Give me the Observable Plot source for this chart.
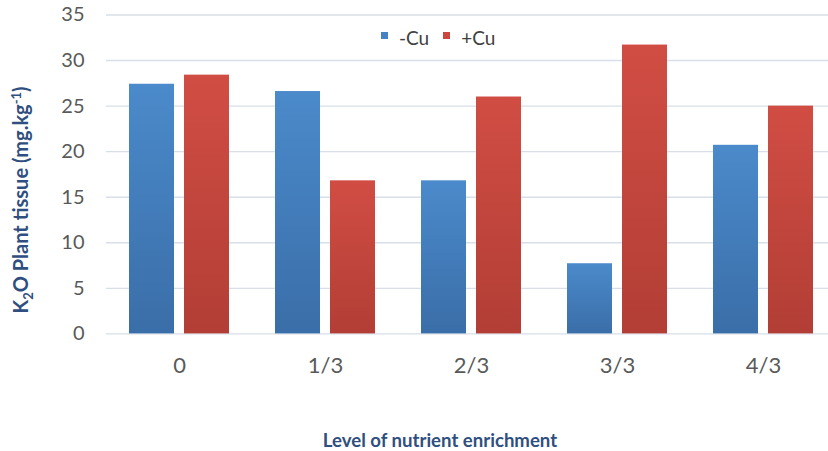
<!DOCTYPE html>
<html>
<head>
<meta charset="utf-8">
<script src="https://cdn.jsdelivr.net/npm/d3@7"></script>
<script src="https://cdn.jsdelivr.net/npm/@observablehq/plot@0.6"></script>
<style>
  html, body { margin: 0; padding: 0; background: #fff; overflow: hidden; }
  #wrap { position: relative; width: 828px; height: 451px; font-family: Lato, "Open Sans", sans-serif; }
  #wrap svg { position: absolute; left: 0; top: 0; overflow: visible; }
  .legend { position: absolute; left: 381px; top: 26px; display: flex; align-items: center; font-size: 19px; color: #404040; }
  .legend .item { display: flex; align-items: center; margin-right: 14px; }
  .legend .sw { width: 7px; height: 7px; margin-right: 11px; margin-top: -4px; }
  .ytitle { position: absolute; left: 22px; top: 200px; transform: translate(-50%, -50%) rotate(-90deg); white-space: nowrap; font-weight: bold; font-size: 20px; color: #2f4f80; }
  .xtitle { position: absolute; left: 440px; top: 440px; transform: translate(-50%, -50%); white-space: nowrap; font-weight: bold; font-size: 18.6px; color: #2f4f80; }
</style>
</head>
<body>
<div id="wrap"></div>
<script>
const categories = ["0", "1/3", "2/3", "3/3", "4/3"];
const series = ["-Cu", "+Cu"];
const minusCu = [27.4, 26.6, 16.8, 7.7, 20.7];
const plusCu = [28.4, 16.8, 26.0, 31.7, 25.0];
const yTicks = [0, 5, 10, 15, 20, 25, 30, 35];
const seriesColors = ["#4682c4", "#c9473e"];

const data = categories.flatMap((c, i) => [
  {level: c, series: series[0], value: minusCu[i]},
  {level: c, series: series[1], value: plusCu[i]}
]);

const chart = Plot.plot({
  width: 828,
  height: 451,
  marginLeft: 104,
  marginRight: -9,
  marginTop: 14.5,
  marginBottom: 117.6,
  style: {fontFamily: "Lato, 'Open Sans', sans-serif", fontSize: "20px", color: "#595959", background: "transparent", overflow: "visible"},
  fx: {domain: categories, paddingInner: 0, paddingOuter: 0, label: null, axis: "bottom", tickSize: 0, tickPadding: 23},
  x: {domain: series, paddingInner: 0.18, paddingOuter: 0.41, axis: null},
  y: {domain: [0, 35], ticks: yTicks, tickSize: 0, tickPadding: 22, label: null},
  color: {domain: series, range: ["url(#gBlue)", "url(#gRed)"]},
  marks: [
    Plot.ruleY(yTicks, {stroke: "#d8dfe9", strokeWidth: 1.4}),
    Plot.barY(data, {fx: "level", x: "series", y: "value", fill: "series"})
  ]
});

const svg = d3.select(chart);
svg.selectAll('g[aria-label^="fx-axis"]').attr("font-size", "22px").selectAll("text").attr("font-size", "22px");
const defs = svg.insert("defs", ":first-child");
const grads = [
  {id: "gBlue", top: "#4b8acb", bottom: "#3a6ea8"},
  {id: "gRed", top: "#d14d44", bottom: "#b23e35"}
];
for (const g of grads) {
  const lg = defs.append("linearGradient").attr("id", g.id).attr("x1", 0).attr("y1", 0).attr("x2", 0).attr("y2", 1);
  lg.append("stop").attr("offset", "0%").attr("stop-color", g.top);
  lg.append("stop").attr("offset", "100%").attr("stop-color", g.bottom);
}

const wrap = document.getElementById("wrap");
wrap.appendChild(chart);

const legend = document.createElement("div");
legend.className = "legend";
series.forEach((s, i) => {
  const item = document.createElement("div");
  item.className = "item";
  const sw = document.createElement("div");
  sw.className = "sw";
  sw.style.background = seriesColors[i];
  const t = document.createElement("span");
  t.textContent = s;
  item.appendChild(sw);
  item.appendChild(t);
  legend.appendChild(item);
});
wrap.appendChild(legend);

const yt = document.createElement("div");
yt.className = "ytitle";
yt.innerHTML = "K<sub style='font-size:13px'>2</sub>O Plant tissue (mg.kg<sup style='font-size:13px'>-1</sup>)";
wrap.appendChild(yt);

const xt = document.createElement("div");
xt.className = "xtitle";
xt.textContent = "Level of nutrient enrichment";
wrap.appendChild(xt);
</script>
</body>
</html>
